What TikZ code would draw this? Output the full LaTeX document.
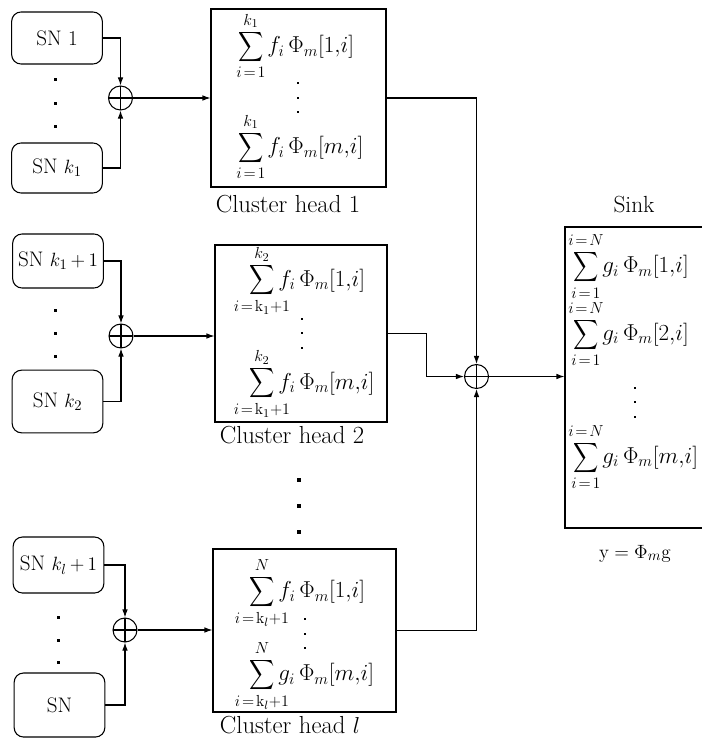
\documentclass[tikz,border=0pt]{standalone}
\usepackage{amsmath}
\usepackage{mathtools}
\usetikzlibrary{arrows.meta}
\newcommand{\csum}{\mathop{\vcenter{\hbox{\scalebox{0.76}[0.9]{$\displaystyle\sum$}}}}\limits}
\newcommand{\eqsp}{\mkern2mu{=}\mkern2mu}
\tikzset{
  snbox/.style={draw, rounded corners=7pt, minimum width=68pt, inner sep=0pt, line width=0.8pt,
    font=\fontsize{15.8}{19}\selectfont},
  chbox/.style={draw, inner sep=0pt, line width=0.8pt},
  adder/.style={draw, circle, minimum size=18pt, inner sep=0pt, line width=0.8pt,
    path picture={\draw[line width=0.8pt]
      (path picture bounding box.north) -- (path picture bounding box.south)
      (path picture bounding box.west) -- (path picture bounding box.east);}},
  flow/.style={line width=0.8pt, -{Latex[length=6pt,width=4.2pt]}},
  sumtxt/.style={inner sep=0pt, anchor=west, font=\fontsize{18.5}{22}\selectfont},
  caption/.style={anchor=base, font=\fontsize{18.5}{20}\selectfont},
  every node/.append style={font=\fontsize{15.5}{18}\selectfont},
}

\begin{document}
\begin{tikzpicture}[x=0.75pt, y=-0.75pt]
  \useasboundingbox (0,0) rectangle (702,749);
  % sensor nodes
  \node[snbox, minimum height=39pt] (sn1)   at (57,38)     {SN 1};
  \node[snbox, minimum height=37.5pt] (snk1)  at (57,168)    {SN $k_1$};
  \node[snbox, minimum height=40.5pt] (snk1p) at (58,261)    {SN $k_1\mkern-1mu+\mkern-1mu1$};
  \node[snbox, minimum height=47pt] (snk2)  at (57.5,401.5) {SN $k_2$};
  \node[snbox, minimum height=42pt] (snklp) at (58.5,565)  {SN $k_l\mkern-1mu+\mkern-1mu1$};
  \node[snbox, minimum height=48pt] (snN)   at (59.5,705)  {SN};
  % adders
  \node[adder] (add1) at (120.5,98) {};
  \node[adder] (add2) at (121,336) {};
  \node[adder] (addl) at (125,630) {};
  \node[adder] (addall) at (476.5,376.5) {};
  % cluster heads and sink
  \node[chbox, minimum width=131.25pt, minimum height=133.5pt] (ch1) at (298.5,98) {};
  \node[chbox, minimum width=129pt, minimum height=132.75pt] (ch2) at (301,333.5) {};
  \node[chbox, minimum width=137.25pt, minimum height=122.25pt] (chl) at (304.5,630.5) {};
  \node[chbox, minimum width=108.75pt, minimum height=225.75pt] (sink) at (637.5,377.5) {};
  % sums inside the boxes
  \node[sumtxt] (ch1a) at (238,46)  {$\csum_{\mathclap{i\eqsp 1}}^{\mathclap{k_1}} f_i\,\Phi_m[1{,}i]$};
  \node[sumtxt] (ch1b) at (238,147) {$\csum_{\mathclap{i\eqsp 1}}^{\mathclap{k_1}} f_i\,\Phi_m[m{,}i]$};
  \node[sumtxt] (ch2a) at (249,281) {$\csum_{\mathclap{i\eqsp\mathrm{k}_1+1}}^{\mathclap{k_2}} f_i\,\Phi_m[1{,}i]$};
  \node[sumtxt] (ch2b) at (249,384) {$\csum_{\mathclap{i\eqsp\mathrm{k}_1+1}}^{\mathclap{k_2}} f_i\,\Phi_m[m{,}i]$};
  \node[sumtxt] (chla) at (249,593) {$\csum_{\mathclap{i\eqsp\mathrm{k}_l+1}}^{\mathclap{N}} f_i\,\Phi_m[1{,}i]$};
  \node[sumtxt] (chlb) at (249,676) {$\csum_{\mathclap{i\eqsp\mathrm{k}_l+1}}^{\mathclap{N}} g_i\,\Phi_m[m{,}i]$};
  \foreach \y/\r [count=\k] in {266.5/1,334/2,457/m}{
    \node[sumtxt, font=\fontsize{17}{20}\selectfont] (sink\k) at (573,\y)
      {$\csum_{\mathclap{i\eqsp 1}}^{\mathclap{i\eqsp N}} g_i\,\Phi_m[\r{,}i]$};
  }
  % labels
  \node[caption] (lblch1) at (288,212) {Cluster head 1};
  \node[caption] (lblch2) at (292,443) {Cluster head 2};
  \node[caption] (lblchl) at (290,733) {Cluster head $l$};
  \node[caption, font=\fontsize{17.5}{20}\selectfont] (lblsink) at (634,212) {Sink};
  \node[anchor=base] (lbly) at (635,558) {$\mathrm{y}=\Phi_m\mathrm{g}$};
  % dots
  \foreach \x/\y/\s in {55/80/3,55/103/3,55/126/3, 55/310/3,55/333/3,55/356/3,
    58/617/3,58/640/3,58/662/3, 299/480/4,299/506/4,299/532/4,
    298/83/2.5,298/98/2.5,298/112/2.5, 302/319/2.5,302/333/2.5,302/348/2.5,
    305/619/2.5,305/634/2.5,305/648/2.5, 635/388/2.5,635/402/2.5,635/417/2.5}{
    \fill (\x-\s/2,\y-\s/2) rectangle ++(\s,\s);
  }
  % connectors
  \draw[flow] (sn1.east) -| (add1.north);
  \draw[flow] (snk1.east) -| (add1.south);
  \draw[flow] (snk1p.east) -| (add2.north);
  \draw[flow] (snk2.east) -| (add2.south);
  \draw[flow] (snklp.east) -| (addl.north);
  \draw[flow] (snN.east) -| (addl.south);
  \draw[flow] (add1.east) -- (add1.east -| ch1.west);
  \draw[flow] (add2.east) -- (add2.east -| ch2.west);
  \draw[flow] (addl.east) -- (addl.east -| chl.west);
  \draw[flow] (ch1.east) -| (addall.north);
  \draw[flow] (ch2.east) -- ++(39,0) |- (addall.west);
  \draw[flow] (chl.east) -| (addall.south);
  \draw[flow] (addall.east) -- (addall.east -| sink.west);
\end{tikzpicture}
\end{document}
